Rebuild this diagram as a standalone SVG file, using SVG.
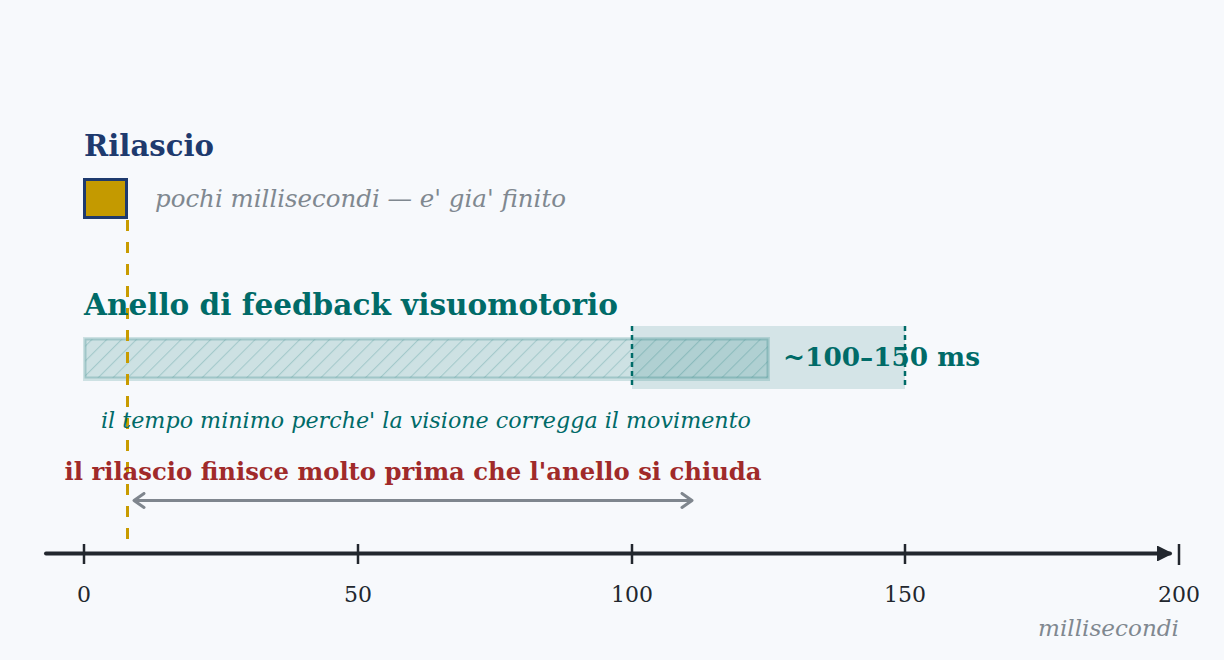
<svg xmlns="http://www.w3.org/2000/svg" width="1224" height="660" viewBox="0 0 1224 660">
<style>
text{font-family:"DejaVu Serif","Liberation Serif",serif}
.tick{stroke:#22272e;stroke-width:2.5}
.tl{font-size:22px;fill:#22272e;text-anchor:middle}
.dot{stroke:#006b68;stroke-width:2.5;stroke-dasharray:5 4}
</style>
<defs>
<pattern id="hatch" patternUnits="userSpaceOnUse" width="10.5" height="10.5" patternTransform="rotate(45)">
<line x1="0" y1="0" x2="0" y2="10.5" stroke="#006b68" stroke-opacity="0.2" stroke-width="2.2"/>
</pattern>
<marker id="ax" viewBox="0 0 10 10" refX="9" refY="5" markerWidth="3.6" markerHeight="3.6" orient="auto" markerUnits="strokeWidth">
<path d="M0,0 L10,5 L0,10 z" fill="#22272e" stroke="#22272e" stroke-width="1" stroke-linejoin="round"/>
</marker>
<marker id="chev" viewBox="0 0 14 18" refX="12" refY="9" markerWidth="14" markerHeight="18" orient="auto-start-reverse" markerUnits="userSpaceOnUse">
<path d="M2,2 L12,9 L2,16" fill="none" stroke="#7f868e" stroke-width="3" stroke-linecap="round" stroke-linejoin="round"/>
</marker>
</defs>
<rect width="1224" height="660" fill="#f7f9fc"/>

<g id="feedback-bar">
<rect x="83" y="337" width="687" height="44" fill="#006b68" fill-opacity="0.17"/>
<rect x="85.5" y="339.5" width="682" height="38" fill="url(#hatch)" stroke="#006b68" stroke-opacity="0.22" stroke-width="2"/>
</g>
<g id="range-box">
<rect x="632" y="326" width="273" height="63" fill="#006b68" fill-opacity="0.14"/>
<line class="dot" x1="632" y1="326" x2="632" y2="389"/>
<line class="dot" x1="905" y1="326" x2="905" y2="389"/>
</g>

<g id="release-line">
<line x1="127.5" y1="220" x2="127.5" y2="546" stroke="#c89b00" stroke-width="3" stroke-dasharray="11 11"/>
</g>

<g id="release">
<text x="84" y="156" font-size="30" font-weight="bold" fill="#1e3a6e" textLength="130" lengthAdjust="spacingAndGlyphs">Rilascio</text>
<rect x="84.5" y="179.5" width="42" height="38" fill="#c49a00" stroke="#1e3a6e" stroke-width="3"/>
<text x="155" y="207" font-size="24" font-style="italic" fill="#808890" textLength="411" lengthAdjust="spacingAndGlyphs">pochi millisecondi — e' gia' finito</text>
</g>

<g id="feedback">
<text x="84" y="315" font-size="30" font-weight="bold" fill="#006b68" textLength="534" lengthAdjust="spacingAndGlyphs">Anello di feedback visuomotorio</text>
<text x="783" y="366" font-size="26" font-weight="bold" fill="#006b68" textLength="197" lengthAdjust="spacingAndGlyphs">~100–150 ms</text>
<text x="426" y="428" font-size="22" font-style="italic" fill="#006b68" text-anchor="middle" textLength="650" lengthAdjust="spacingAndGlyphs">il tempo minimo perche' la visione corregga il movimento</text>
</g>

<g id="comparison">
<text x="413" y="480" font-size="24" font-weight="bold" fill="#a02a2a" text-anchor="middle" textLength="697" lengthAdjust="spacingAndGlyphs">il rilascio finisce molto prima che l'anello si chiuda</text>
</g>

<g id="connectors">
<line x1="134" y1="500.5" x2="692" y2="500.5" stroke="#7f868e" stroke-width="3" marker-start="url(#chev)" marker-end="url(#chev)"/>
</g>

<g id="axis">
<line x1="46" y1="553.5" x2="1170" y2="553.5" stroke="#22272e" stroke-width="4" stroke-linecap="round" marker-end="url(#ax)"/>
<line class="tick" x1="84" y1="544" x2="84" y2="564"/>
<line class="tick" x1="358" y1="544" x2="358" y2="564"/>
<line class="tick" x1="632" y1="544" x2="632" y2="564"/>
<line class="tick" x1="905" y1="544" x2="905" y2="564"/>
<line class="tick" x1="1179" y1="544" x2="1179" y2="565"/>
<text class="tl" x="84" y="602">0</text>
<text class="tl" x="358" y="602">50</text>
<text class="tl" x="632" y="602">100</text>
<text class="tl" x="905" y="602">150</text>
<text class="tl" x="1179" y="602">200</text>
<text x="1179" y="636" font-size="23" font-style="italic" fill="#808890" text-anchor="end" textLength="141" lengthAdjust="spacingAndGlyphs">millisecondi</text>
</g>
</svg>
